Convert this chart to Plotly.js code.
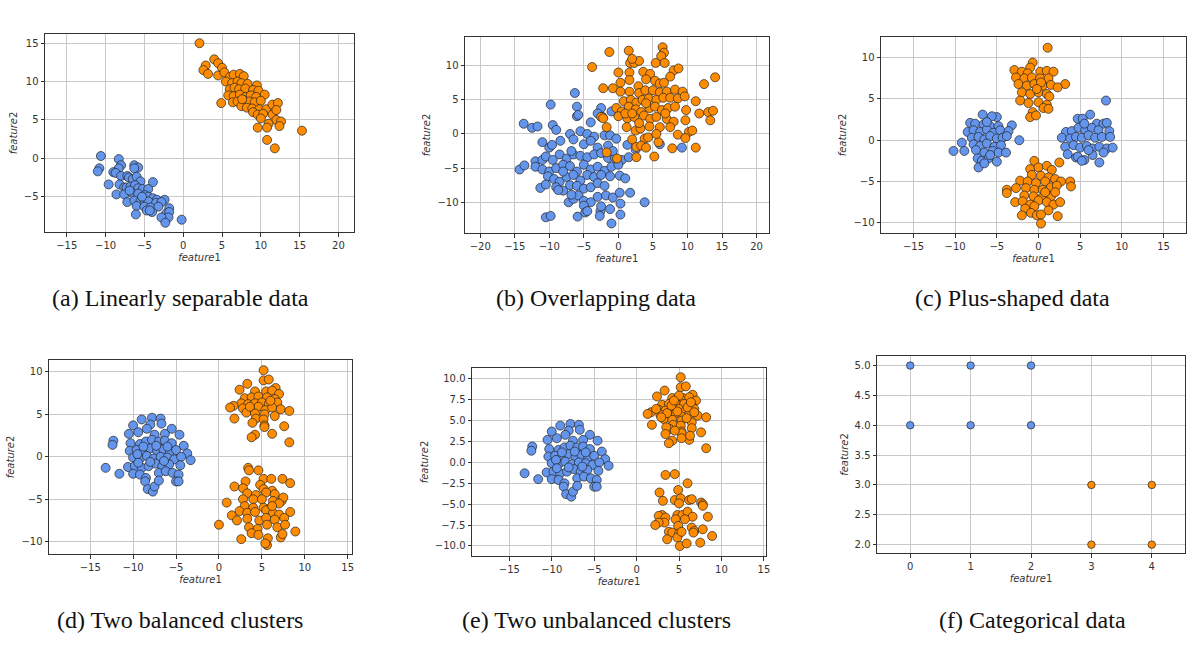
<!DOCTYPE html>
<html><head><meta charset="utf-8">
<script src="https://cdn.plot.ly/plotly-3.0.1.min.js"></script>
<style>body{margin:0;background:#fff}#c{width:1204px;height:654px}</style>
</head><body><div id="c"></div>
<script>
const aBlue=[[-10.6,0.3],[-10.8,-1.3],[-11,-1.7],[-8.3,-0.1],[-8,-0.9],[-8.3,-1.3],[-6.3,-0.9],[-5.8,-1.2],[-6.3,-1.3],[-9,-1.8],[-8.7,-1.9],[-9.6,-3.4],[-8,-2.3],[-7.2,-2.3],[-7,-2.5],[-6.5,-2.7],[-6,-2.4],[-5.5,-3],[-3.9,-3.1],[-8.2,-3.4],[-7.6,-3.8],[-7.3,-3.8],[-6.8,-3.7],[-6.2,-3.5],[-5.8,-3.9],[-5.2,-4],[-4.5,-4],[-8.6,-4.7],[-7.6,-4.7],[-6.6,-4.5],[-5.8,-4.6],[-4.9,-4.8],[-4.5,-5],[-3.9,-5.2],[-3.4,-5.4],[-2.4,-5.4],[-7.2,-5.7],[-6.3,-5.5],[-5.5,-5.6],[-5,-5.9],[-4.5,-5.6],[-3.5,-5.8],[-2.8,-5.7],[-6,-6.2],[-5,-6.3],[-4.2,-6.4],[-3.2,-6.3],[-1.8,-6.5],[-6.1,-7.3],[-4.7,-6.8],[-4,-7],[-2.2,-7.2],[-1.8,-7],[-1.9,-7.7],[-2.8,-7.7],[-2.3,-8.4],[-0.2,-8],[-4.3,-6.8],[-5.3,-5],[-6.9,-4.2]];
const aOrange=[[2.1,15],[4,12.9],[4.5,12.4],[2.9,12.1],[2.6,11.5],[3.2,11],[4.5,10.8],[5,11.8],[5.3,11.2],[6,10.6],[6.5,10.9],[7.3,11],[7.8,10.7],[5.5,10],[6.3,9.8],[7,10],[7.5,9.8],[8.3,9.7],[9.5,9.5],[6,9],[6.6,9.2],[7.2,9],[8,9.1],[9,8.9],[9.7,8.8],[5.8,8.2],[6.5,8.1],[7.3,8.3],[8,8],[8.7,8.2],[9.4,8],[10.5,8.3],[6.4,7.3],[7,7.4],[7.8,7.6],[8.5,7.4],[9.2,7.3],[10,7.5],[4.9,7.2],[7.5,6.8],[8.2,6.6],[8.9,6.5],[9.8,6.4],[10.7,6.4],[11.5,7],[12.2,7.2],[9,6],[9.6,5.7],[10.3,5.8],[11.5,5.7],[12,6.3],[12,5],[12.6,4.8],[12.4,4.2],[11,4.5],[9.6,4],[10.8,4],[10.8,2.4],[11.8,1.3],[15.3,3.6],[10,5.2],[7.6,7.7]];
const bBlue=[[-6.3,6],[-6,4],[-6,2.6],[-5.8,2.8],[-9.8,4.3],[-13.7,1.5],[-12.5,0.9],[-11.7,1.1],[-9.5,1.3],[-9,0.6],[-7,0],[-5.5,0.4],[-4.5,0],[-2.5,3.8],[-3,3],[-4,1.7],[-2.3,2.5],[-1,3.3],[-3.5,-0.4],[-2,-0.2],[-1.2,-0.2],[-0.3,-0.7],[-11,-1.2],[-10,-2],[-9.6,-1.6],[-8.4,-1],[-6.5,-0.8],[-5,-1.5],[-4,-1],[-3,-2],[-1.5,-1.7],[1.3,-1.6],[2.5,-2.3],[6,-1.5],[9.2,-2],[-12,-4],[-11,-3.8],[-10.5,-3.3],[-9.5,-3.8],[-8.5,-3],[-7.5,-3.6],[-6.5,-3],[-5.5,-3.2],[-4.5,-3.4],[-3.5,-3],[-2.5,-2.8],[-1.5,-3.5],[-0.5,-3.5],[0.5,-3.8],[1.5,-3.4],[-14.3,-5.2],[-13.6,-4.6],[-12,-4.8],[-11,-5.2],[-10,-5.5],[-9,-5],[-8,-4.5],[-7,-4.7],[-6,-5.5],[-5,-4.5],[-4,-5.2],[-3,-4.8],[-2,-5.4],[-1,-4.8],[0,-4.5],[-10.2,-6.2],[-9.3,-6.6],[-8.5,-7],[-7.5,-6.3],[-6.5,-6],[-5.5,-6.8],[-4.5,-6],[-3.5,-6.3],[-2.5,-6],[-1.2,-6.2],[0.2,-6.1],[1,-6.5],[-11.3,-7.9],[-10.5,-7.4],[-9,-7.8],[-8,-8.3],[-7,-7.5],[-6,-7.6],[-5,-8],[-4,-7.8],[-3,-7.2],[-2,-7.6],[-7.2,-10],[-6.5,-9.5],[-5.8,-9],[-5,-9.8],[-4,-10],[-3,-9.2],[-1.8,-9],[-0.8,-9.3],[0.2,-8.6],[1.7,-8.6],[3.8,-10],[-10.5,-12.2],[-9.8,-12],[-5.9,-12.1],[-5,-10.5],[-4.8,-11.5],[-2.6,-11.3],[-2.7,-12],[-1.2,-11],[0.3,-10.2],[0.3,-11.8],[-1,-13.1],[-4.5,-11.3],[-8.7,-8.2],[-6.8,-8.9],[-2.5,-10.6],[-8,-5.5],[-6.8,-2.5],[-0.8,-2.5]];
const bOrange=[[-1.3,12],[1.5,12.2],[6.4,12.7],[6.6,11.9],[6.2,11.4],[1.7,10.4],[2.3,10.4],[3,10.7],[2,11],[5.4,10.4],[6.7,10.4],[-3.8,9.8],[0,9],[1.6,9],[3.6,9.1],[4.6,8.8],[8,9.3],[8.7,9.6],[7.5,8.4],[1.6,7.9],[2.9,7],[4,8],[5.3,7.8],[6,7.4],[6.6,7.5],[0.3,7.5],[-2.2,6.7],[-0.8,6.7],[1.6,6.2],[3,6],[3.9,6.4],[5,6.4],[6,6.1],[7,6.2],[8.2,6.5],[9.3,6.2],[12.4,7.3],[14,8.3],[0.3,6.2],[0.8,4.8],[1.8,5],[2.6,4.6],[3.5,5],[4.4,5.2],[5.5,5],[6.5,5.3],[7.5,5.3],[8.6,5.2],[9.6,5.5],[11.2,4.8],[-0.3,3.8],[0.5,3.3],[1.5,4],[2.5,3.6],[3.3,3.2],[4.5,3.8],[5.3,4],[6.3,3.5],[7.2,3.8],[8.2,4],[9.8,3.5],[11.7,3],[13,3.2],[13.7,3.4],[-2.5,2.5],[-2.2,2.3],[0,2.6],[1.3,2.3],[2.3,2.5],[3.7,2.7],[4.6,2.2],[5.5,2.5],[7,2.2],[8,1.8],[9.7,2],[13.3,2],[-1.7,1],[1.2,1],[2.5,0.5],[3.2,0.8],[4.5,1.1],[6,1],[7.5,1],[10.2,0.3],[10.7,0.5],[8.6,-0.1],[9.7,-0.6],[2,-0.8],[3.8,-0.7],[4.3,-0.5],[5.8,-1.2],[2.6,-1.9],[3.3,-1.7],[4,-2],[7.8,-2.1],[11.2,-2],[2.6,-3.4],[5.2,-3.3],[-1.7,-2.7],[-0.2,-3.6],[1,3],[5.5,0],[3,1.6],[6.8,3],[4,4.5],[2,3]];
const cBlueLeft=[[-6.7,3.1],[-5,2.8],[-5.6,2.9],[-8.2,2.1],[-7.6,2],[-6.6,1.9],[-5.8,1.7],[-4.8,1.7],[-3.2,1.8],[-8.5,1],[-7.8,1.2],[-7,1],[-6.2,1.3],[-5.4,0.9],[-4.6,1.2],[-3.6,1.1],[-8,0.3],[-7.2,0.4],[-6.5,0.1],[-5.8,0.5],[-5,0.2],[-4.3,0.3],[-3.8,0.5],[-2.3,0],[-9.2,-0.3],[-7.8,-0.5],[-7,-0.7],[-6.2,-0.4],[-5.3,-0.8],[-4.5,-0.6],[-10.2,-1.3],[-8.9,-1.3],[-7.5,-1.2],[-6.5,-1.5],[-5.5,-1.3],[-4.8,-1.5],[-3.9,-1.5],[-7.3,-2.2],[-6.8,-2.5],[-6,-2.2],[-5,-2.6],[-7.2,-3.3],[-6.5,-2.8],[-5.8,-1.8],[-6.2,2.2]];
const cBlueRight=[[8.1,4.8],[6.2,3.1],[4.7,2.6],[5.3,2.6],[7,2],[7.8,2],[8.2,2.1],[3.3,1],[4,1.1],[4.8,1.5],[5.6,1.2],[6.4,1.5],[7.2,1.2],[8.5,1.1],[2.8,0.3],[3.8,0.2],[4.5,0.4],[5.2,0.3],[6,0.6],[6.8,0.3],[7.6,0.4],[8.6,0.4],[3.2,-0.8],[4.2,-0.6],[5,-0.9],[5.8,-0.7],[6.5,-1],[7.3,-0.8],[8.2,-1],[8.9,-0.9],[3.5,-1.7],[4.5,-2.1],[5.5,-2.4],[6.5,-1.8],[7.3,-2.7],[7.8,-1.5],[4.7,-2],[5.2,-2.5],[6,-1.2],[5.5,2]];
const cOrangeTop=[[1.1,11.2],[-0.7,9.4],[-1,8.8],[-2.9,8.5],[-2,8.3],[-1.3,8.1],[0.2,8.3],[1,8.4],[1.8,8.3],[-2.7,7.6],[-1.7,7.5],[-0.8,7.6],[0.2,7.5],[1.2,7.5],[-2.4,6.8],[-1.4,6.6],[-0.5,6.8],[0.5,6.6],[1.5,6.7],[3.2,6.8],[2.3,6.4],[-2,5.8],[-1,5.6],[0,5.8],[1,5.6],[1.3,5.3],[-2.2,4.8],[-1.2,4.5],[0,4.6],[1,4.3],[0.6,3.9],[1.2,3.8],[-0.7,3.4],[-1,2.8],[-0.3,3],[0.3,7],[-0.2,6.2]];
const cOrangeBottom=[[-0.5,-2.5],[2.5,-2.7],[-1,-3.5],[0,-3.3],[1,-3.1],[1.6,-3.6],[-0.8,-4.2],[0.3,-4.3],[1.2,-4.5],[-2.2,-4.9],[-1.3,-5],[-0.3,-5.2],[0.8,-5],[2,-4.7],[2.7,-5],[3.8,-5],[3.9,-5.6],[-2.7,-5.8],[-1.5,-5.8],[-0.5,-6],[0.5,-6],[1.5,-5.7],[2.2,-5.5],[-3.8,-6],[-3.8,-6.4],[-1.7,-6.7],[-0.6,-6.8],[0.4,-7],[1.5,-6.8],[-2.8,-7.5],[-1.9,-7.4],[-1,-7.8],[0,-7.3],[1,-7.5],[1.8,-7.8],[2.6,-7.5],[-1.6,-8.3],[-0.5,-8],[1.2,-8.5],[-2,-9.1],[-0.9,-8.8],[-0.2,-9.1],[0.3,-9],[2.3,-9.2],[0.3,-10.1],[0.8,-6.3],[2,-6.3]];
const dBlue=[[-7.8,4.6],[-6.8,4.5],[-9,4.4],[-6.7,3.9],[-8,3.8],[-10,3.7],[-5.5,3.3],[-8.4,3.3],[-9.4,2.9],[-10.5,2.7],[-7.5,2.6],[-6.3,2.7],[-4.6,2.6],[-12.3,1.9],[-12.4,1.4],[-10.3,1.6],[-9.2,1.5],[-8.5,1.8],[-7.8,2],[-7,1.8],[-6.3,1.9],[-5.5,1.6],[-4.1,1.3],[-10.4,0.7],[-9.6,0.8],[-8.8,0.6],[-8,1],[-7.2,0.7],[-6.5,0.9],[-5.7,0.6],[-5,0.8],[-3.7,0.4],[-10,-0.1],[-9.2,-0.2],[-8.4,0.1],[-7.6,-0.2],[-6.8,0],[-6,-0.1],[-5.2,-0.3],[-4.4,0],[-3.3,-0.4],[-13.2,-1.3],[-10.6,-1.2],[-9.8,-1.1],[-9,-1.3],[-8.2,-1.1],[-7.4,-0.8],[-6.6,-1.1],[-5.8,-0.9],[-4.5,-1],[-11.6,-2],[-10,-2],[-9.2,-2.1],[-8.5,-2.5],[-7,-1.9],[-6.2,-1.7],[-5.4,-1.9],[-4.7,-2.1],[-8.6,-2.9],[-5,-2.9],[-4.7,-2.9],[-8.3,-3.8],[-7.7,-4.1],[-7.5,-3.5],[-9.5,0.3],[-7,-2.8],[-8.8,1.2],[-7.3,1.3],[-6,1.2],[-9.4,-0.7],[-8,-0.6],[-6.4,-0.5]];
const dOrangeTop=[[5.2,10.2],[5.2,9],[5.8,9.1],[3.3,8.6],[2.4,7.9],[6.6,8.1],[4.2,7.7],[5.5,7.7],[6.2,7.8],[7,7.4],[3,6.9],[3.8,7],[4.6,7.1],[5.6,7],[6.5,6.8],[2.6,6.3],[3.4,6.2],[4.2,6.3],[5,6.4],[5.8,6.2],[6.8,6.4],[1.7,6],[1.3,5.8],[2.8,5.7],[3.8,5.6],[4.6,5.9],[5.4,5.5],[6.2,5.8],[7.2,5.6],[8.2,5.4],[3.2,5.2],[4.2,5.1],[5.3,5],[6.5,4.8],[1.8,4.5],[4.3,4.5],[5.2,4.4],[3.9,4],[5.3,3.7],[5.3,3.5],[7.6,3.6],[4.2,2.6],[3.8,2.3],[6.2,2.7],[8.2,1.7],[3.6,5.9],[6,6.6]];
const dOrangeBottom=[[3.4,-1.3],[3.5,-1.6],[4.6,-1.6],[5.2,-2.6],[6.1,-2.6],[7.4,-2.6],[8.3,-3.1],[3.1,-2.9],[1.8,-3.5],[2.8,-3.7],[4.8,-3.3],[5.2,-3.8],[6.2,-4],[3.3,-4.3],[4.3,-4.5],[5.5,-4.2],[6.5,-4.4],[2.8,-5],[4,-5],[5,-5],[6.3,-5.2],[7.3,-5.2],[7.5,-4.8],[0.9,-5.4],[3,-5.8],[4,-6],[5.2,-6],[6,-6],[7,-5.5],[1.5,-6.9],[2.4,-6.4],[3.3,-6.6],[4.2,-6.5],[5.5,-6.3],[6.3,-6.6],[7,-6.8],[8.3,-6.5],[2.1,-7.5],[3.3,-7.3],[4.7,-7.5],[5.5,-7.2],[6.5,-7.4],[7.6,-7.2],[0,-8],[3.5,-8.3],[4.5,-8.5],[5.6,-8],[6.8,-8.3],[7.7,-8],[3.8,-9],[4.6,-9.2],[5.7,-9.6],[7.2,-9.5],[8.9,-8.8],[2.6,-9.7],[5.6,-10.4],[5.4,-10.2],[7.4,-9.1],[6.2,-5.8]];
const eBlue=dBlue;
const eOrangeTop=dOrangeTop.concat([[4.8,6.1],[5.9,5.3],[4.1,6.8],[6.4,7.2],[2.3,6.4],[5,8],[3.5,4.2],[6.5,4.1],[4.5,3.8],[5.3,2.9],[6.3,3.2],[3.4,3.4],[4.4,7.4],[6.8,6],[2.9,5.4]]);
const eOrangeBottom=[[3.4,-1.5],[4.5,-1.4],[6,-2.5],[2.7,-3.6],[4.9,-3.3],[3.1,-4.6],[4.5,-4.5],[5.2,-4.3],[6.2,-4.5],[6.5,-4.4],[5,-4.9],[7.6,-4.8],[7.8,-5],[7.8,-5.2],[3,-6.3],[2.6,-6.4],[3.4,-6.6],[4.8,-6.3],[5.4,-6.3],[6,-5.9],[6.6,-6.5],[5.7,-6.8],[4.6,-6.8],[8.4,-6.5],[3.3,-7.2],[2.6,-7.2],[2.2,-7.5],[4.9,-7.6],[6.5,-7.8],[6.8,-8.2],[6.7,-8.4],[7.8,-8],[3.8,-8.3],[4.2,-8.4],[5,-8.5],[3.6,-9.2],[4.8,-9],[5.1,-10],[5.9,-9.7],[7.5,-9.6],[8.9,-8.8],[5.3,-8.3]];
const fBlue=[[0,4],[0,5],[1,4],[1,5],[2,4],[2,5]];
const fOrange=[[3,2],[3,3],[4,2],[4,3]];
const captions=["(a) Linearly separable data","(b) Overlapping data","(c) Plus-shaped data","(d) Two balanced clusters","(e) Two unbalanced clusters","(f) Categorical data"];

const W=1204,H=654;
const panels=[
 {box:[45,354,34,232],xr:[-17.8,22.0],yr:[-9.6,16.2],xd:5,yd:5,yf:'',sets:[[aBlue,'b'],[aOrange,'o']],cap:[180,298],ms:9},
 {box:[465,769,37,233],xr:[-22.2,21.8],yr:[-14.5,14.2],xd:5,yd:5,yf:'',sets:[[bBlue,'b'],[bOrange,'o']],cap:[596,298],ms:9},
 {box:[881,1186,37,233],xr:[-18.9,17.7],yr:[-11.24,12.5],xd:5,yd:5,yf:'',sets:[[cBlueLeft,'b'],[cBlueRight,'b'],[cOrangeTop,'o'],[cOrangeBottom,'o']],cap:[1012,298],ms:9},
 {box:[49,352,360,554],xr:[-19.8,15.5],yr:[-11.45,11.4],xd:5,yd:5,yf:'',sets:[[dBlue,'b'],[dOrangeTop,'o'],[dOrangeBottom,'o']],cap:[180,620],ms:9},
 {box:[472,766,368,556],xr:[-19.4,15.25],yr:[-11.2,11.3],xd:5,yd:2.5,yf:'.1f',sets:[[eBlue,'b'],[eOrangeTop,'o'],[eOrangeBottom,'o']],cap:[596,620],ms:9},
 {box:[877,1185,356,553],xr:[-0.55,4.55],yr:[1.86,5.16],xd:1,yd:0.5,yf:'.1f',sets:[[fBlue,'b'],[fOrange,'o']],cap:[1032,620],ms:7.5}
];
const col={b:'#6495ED',o:'#FF8C00'};
const traces=[],layout={width:W,height:H,margin:{l:0,r:0,t:0,b:0},showlegend:false,paper_bgcolor:'#fff',plot_bgcolor:'#fff',annotations:[],font:{family:'DejaVu Sans',color:'#333'}};
panels.forEach((p,i)=>{
 const n=i+1,xa='xaxis'+(n>1?n:''),ya='yaxis'+(n>1?n:'');
 p.sets.forEach(([pts,c])=>traces.push({type:'scatter',mode:'markers',x:pts.map(q=>q[0]),y:pts.map(q=>q[1]),xaxis:'x'+(n>1?n:''),yaxis:'y'+(n>1?n:''),marker:{color:col[c],size:p.ms,line:{color:'#222',width:0.7}},hoverinfo:'skip'}));
 const common={showline:true,mirror:true,linecolor:'#333',linewidth:1,showgrid:true,gridcolor:'#c8c8c8',gridwidth:1,zeroline:false,ticks:'outside',ticklen:3.5,tickcolor:'#333',tickfont:{size:10,color:'#333'}};
 layout[xa]=Object.assign({},common,{domain:[p.box[0]/W,p.box[1]/W],range:p.xr,dtick:p.xd,tick0:0,anchor:'y'+(n>1?n:''),title:{text:'<i>feature</i>1',font:{size:10,color:'#333'},standoff:4}});
 layout[ya]=Object.assign({},common,{domain:[1-p.box[3]/H,1-p.box[2]/H],range:p.yr,dtick:p.yd,tick0:0,tickformat:p.yf,anchor:'x'+(n>1?n:''),title:{text:'<i>feature</i>2',font:{size:10,color:'#333'},standoff:4}});
 layout.annotations.push({xref:'paper',yref:'paper',x:p.cap[0]/W,y:1-p.cap[1]/H,text:captions[i],showarrow:false,font:{family:'Liberation Serif',size:24,color:'#111'},xanchor:'center',yanchor:'middle'});
});
Plotly.newPlot('c',traces,layout,{staticPlot:true});
</script></body></html>
